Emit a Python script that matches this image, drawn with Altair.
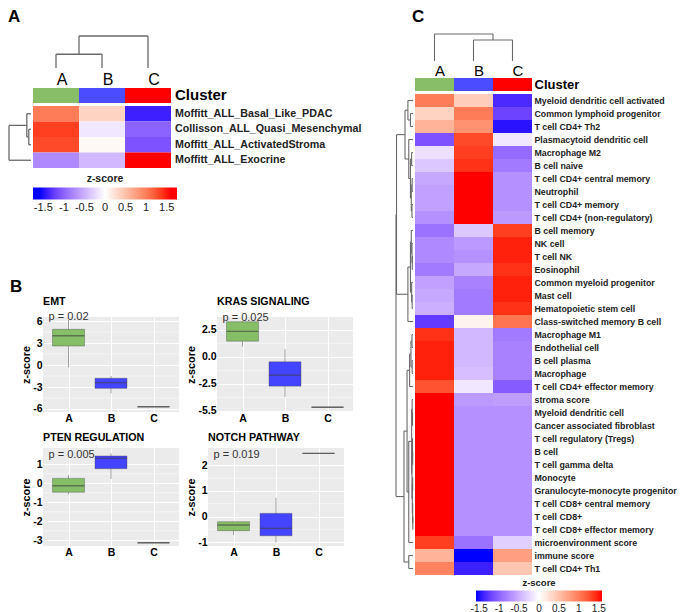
import altair as alt
import pandas as pd

FONT = "Liberation Sans"

# ---------------- data ----------------
clusters = ["A", "B", "C"]
cluster_colors = ["#88BE68", "#4B4BFF", "#FF0000"]
box_fill = ["#86BD67", "#4444FF", "#FF0000"]

# Panel A heatmap (z-scores per cluster)
a_rows = ["Moffitt_ALL_Basal_Like_PDAC", "Collisson_ALL_Quasi_Mesenchymal",
          "Moffitt_ALL_ActivatedStroma", "Moffitt_ALL_Exocrine"]
a_z_A = [1.0, 1.35, 1.3, -0.75]
a_z_B = [0.35, -0.15, 0.05, -0.45]
a_z_C = [-1.4, -1.0, -1.1, 1.5]
# dendrograms: [merge height, left, right]; integers are leaves
a_row_tree = [1.0, [0.19, 0, [0.1, 1, 2]], 3]
a_col_tree = [1.0, [0.43, 0, 1], 2]

# Panel C heatmap
c_rows = ["Myeloid dendritic cell activated", "Common lymphoid progenitor", "T cell CD4+ Th2",
          "Plasmacytoid dendritic cell", "Macrophage M2", "B cell naive",
          "T cell CD4+ central memory", "Neutrophil", "T cell CD4+ memory",
          "T cell CD4+ (non-regulatory)", "B cell memory", "NK cell", "T cell NK", "Eosinophil",
          "Common myeloid progenitor", "Mast cell", "Hematopoietic stem cell",
          "Class-switched memory B cell", "Macrophage M1", "Endothelial cell", "B cell plasma",
          "Macrophage", "T cell CD4+ effector memory", "stroma score", "Myeloid dendritic cell",
          "Cancer associated fibroblast", "T cell regulatory (Tregs)", "B cell",
          "T cell gamma delta", "Monocyte", "Granulocyte-monocyte progenitor",
          "T cell CD8+ central memory", "T cell CD8+", "T cell CD8+ effector memory",
          "microenvironment score", "immune score", "T cell CD4+ Th1"]
c_z_A = [1.0, 0.35, 0.6, -1.1, -0.2, -0.35, -0.55, -0.6, -0.6, -0.7,
         -0.9, -0.75, -0.75, -0.85, -0.6, -0.55, -0.5, -1.25,
         1.4, 1.45, 1.45, 1.45, 1.25, 1.5, 1.5, 1.5, 1.5, 1.5, 1.5, 1.5, 1.5, 1.5, 1.5, 1.5,
         1.35, 0.6, 0.95]
c_z_B = [0.4, 1.0, 0.85, 1.3, 1.35, 1.4, 1.5, 1.5, 1.5, 1.5,
         -0.35, -0.65, -0.7, -0.55, -0.8, -0.85, -0.85, 0.1,
         -0.45, -0.45, -0.45, -0.4, -0.15, -0.65, -0.7, -0.7, -0.7, -0.7, -0.7, -0.7, -0.7,
         -0.7, -0.7, -0.7, -0.9, -1.5, -1.4]
c_z_C = [-1.35, -1.2, -1.45, -0.15, -0.95, -0.85, -0.7, -0.7, -0.7, -0.65,
         1.35, 1.45, 1.45, 1.4, 1.45, 1.45, 1.4, 1.05,
         -0.85, -0.8, -0.8, -0.8, -1.05, -0.62, -0.7, -0.7, -0.7, -0.7, -0.7, -0.7, -0.7,
         -0.7, -0.7, -0.7, -0.3, 0.75, 0.45]
c_col_tree = [1.0, 0, [0.78, 1, 2]]
c_row_tree = [1.0,
              [0.97,
               [0.47, [0.3, 0, [0.15, 1, 2]],
                [0.25, 3, [0.15, [0.08, 4, 5], [0.1, [0.05, 6, 7], [0.06, 8, 9]]]]],
               [0.3, [0.15, [0.1, 10, [0.06, 11, [0.04, 12, 13]]], [0.08, 14, [0.05, 15, 16]]], 17]],
              [0.53,
               [0.35, [0.2, [0.12, [0.06, 18, 19], [0.05, 20, 21]], 22],
                [0.25, [0.08, [0.05, 23, [0.03, 24, 25]],
                        [0.06, [0.03, 26, [0.02, 27, 28]],
                         [0.04, [0.02, 29, 30], [0.02, 31, [0.01, 32, 33]]]]], 34]],
               [0.25, 35, 36]]]

legend_values = [-1.5, -1, -0.5, 0, 0.5, 1, 1.5]

# Panel B boxplots (summary statistics per cluster A, B, C)
box_titles = ["EMT", "KRAS SIGNALING", "PTEN REGULATION", "NOTCH PATHWAY"]
box_pvals = ["p = 0.02", "p = 0.025", "p = 0.005", "p = 0.019"]
box_p_y = [6.1, 3.3, 1.33, 2.3]
box_lower = [[-0.31, -3.86, -5.69], [0.93, -3.7, -4.66], [-0.58, 0.23, -3.13], [-0.72, -1.02, 2.47]]
box_q1 = [[2.59, -3.18, -5.69], [1.45, -2.71, -4.66], [-0.47, 0.77, -3.13], [-0.55, -0.75, 2.47]]
box_median = [[4.0, -2.41, -5.69], [2.35, -1.69, -4.66], [-0.13, 1.32, -3.13], [-0.33, -0.46, 2.47]]
box_q3 = [[4.87, -1.81, -5.69], [3.24, -0.46, -4.66], [0.26, 1.44, -3.13], [-0.2, 0.125, 2.47]]
box_upper = [[6.14, -1.5, -5.69], [3.3, 0.71, -4.66], [0.44, 1.58, -3.13], [-0.2, 0.73, 2.47]]
box_ticks = [[-6, -3, 0, 3, 6], [-5, -2.5, 0, 2.5], [-3, -2, -1, 0, 1], [-1, 0, 1, 2]]
box_tick_labels = [["-6", "-3", "0", "3", "6"], ["-5.5", "-2.5", "0.0", "2.5"],
                   ["-3", "-2", "-1", "0", "1"], ["-1", "0", "1", "2"]]
box_ydom = [[-6.41, 6.55], [-5.1, 3.68], [-3.3, 1.86], [-1.15, 2.68]]
box_height = [95, 95, 98, 98]


# ---------------- helpers ----------------
def dendro_segments(tree):
    segs = []

    def walk(node):
        if isinstance(node, int):
            return node + 0.5, 0.0
        h, left, right = node
        pl, hl = walk(left)
        pr, hr = walk(right)
        segs.append((pl, pl, hl, h))
        segs.append((pr, pr, hr, h))
        segs.append((pl, pr, h, h))
        return (pl + pr) / 2.0, h

    walk(tree)
    return segs


def heat_panel(rows, zcols, row_tree, col_tree, g, letters):
    ux = lambda px: (px - g["x0"]) / g["cw"]
    vy = lambda py: (py - g["y0"]) / g["rh"]
    xs = alt.Scale(domain=[ux(0), ux(g["W"])], nice=False, zero=False)
    ys = alt.Scale(domain=[vy(0), vy(g["H"])], nice=False, zero=False, reverse=True)
    X = alt.X("x0:Q", scale=xs, axis=None)
    Y = alt.Y("y0:Q", scale=ys, axis=None)

    cells = pd.DataFrame([{"x0": c, "x1": c + 1, "y0": r, "y1": r + 1, "z": z}
                          for c, col in enumerate(zcols) for r, z in enumerate(col)])
    e = g["ext"]
    cscale = alt.Scale(domain=[-e, -1.5, 0, 1.5, e],
                       range=["#0000FF", "#0000FF", "#FFFFFF", "#FF0000", "#FF0000"],
                       interpolate="lab")
    legend = alt.Legend(orient="none", legendX=g["lx"], legendY=g["ly"], direction="horizontal",
                        title="z-score", titleAnchor="middle", titleFont=FONT,
                        titleFontSize=g["lt_fs"], titleFontWeight="bold", titleColor="#222",
                        titlePadding=3, gradientLength=g["glen"], gradientThickness=g["gth"],
                        gradientStrokeWidth=0, values=legend_values,
                        labelExpr="'' + datum.value", labelFont=FONT, labelFontSize=g["ll_fs"],
                        labelColor="#222", labelOverlap=False, labelOffset=2)
    heat = alt.Chart(cells).mark_rect().encode(
        x=X, x2="x1", y=Y, y2="y1", color=alt.Color("z:Q", scale=cscale, legend=legend))

    bar = pd.DataFrame({"x0": [0, 1, 2], "x1": [1, 2, 3],
                        "y0": [vy(g["bar0"])] * 3, "y1": [vy(g["bar1"])] * 3,
                        "fill": cluster_colors})
    bar_l = alt.Chart(bar).mark_rect().encode(x=X, x2="x1", y=Y, y2="y1",
                                              fill=alt.Fill("fill:N", scale=None))

    col_lab = pd.DataFrame({"x0": [0.5, 1.5, 2.5], "y0": [vy(g["collab_y"])] * 3, "label": clusters})
    col_lab_l = alt.Chart(col_lab).mark_text(align="center", baseline="alphabetic", font=FONT,
                                             fontSize=g["col_fs"], color="black",
                                             dx=g["col_dx"]).encode(
        x=X, y=Y, text="label:N")

    clus = pd.DataFrame({"x0": [ux(g["lab_x"])], "y0": [vy(g["clus_y"])], "label": ["Cluster"]})
    clus_l = alt.Chart(clus).mark_text(align="left", baseline="alphabetic", font=FONT,
                                       fontSize=g["clus_fs"], fontWeight="bold", color="black").encode(
        x=X, y=Y, text="label:N")

    rl = pd.DataFrame({"x0": [ux(g["lab_x"])] * len(rows), "y0": [r + 0.5 for r in range(len(rows))],
                       "label": rows})
    rl_l = alt.Chart(rl).mark_text(align="left", baseline="middle", font=FONT,
                                   fontSize=g["row_fs"], fontWeight="bold", color="#222").encode(
        x=X, y=Y, text="label:N")

    cseg = dendro_segments(col_tree)
    cy = lambda h: vy(g["cd_leaf"] + (g["cd_root"] - g["cd_leaf"]) * h)
    cd = pd.DataFrame({"x0": [s[0] for s in cseg], "x1": [s[1] for s in cseg],
                       "y0": [cy(s[2]) for s in cseg], "y1": [cy(s[3]) for s in cseg]})
    rseg = dendro_segments(row_tree)
    rx = lambda h: ux(g["rd_leaf"] + (g["rd_root"] - g["rd_leaf"]) * h)
    rd = pd.DataFrame({"y0": [s[0] for s in rseg], "y1": [s[1] for s in rseg],
                       "x0": [rx(s[2]) for s in rseg], "x1": [rx(s[3]) for s in rseg]})
    cd_l = alt.Chart(cd).mark_rule(color="#6a6a6a", strokeWidth=g["dw"]).encode(
        x=X, x2="x1", y=Y, y2="y1")
    rd_l = alt.Chart(rd).mark_rule(color="#6a6a6a", strokeWidth=g["dw"]).encode(
        x=X, x2="x1", y=Y, y2="y1")

    let = pd.DataFrame({"x0": [ux(l[1]) for l in letters], "y0": [vy(l[2]) for l in letters],
                        "label": [l[0] for l in letters]})
    let_l = alt.Chart(let).mark_text(align="left", baseline="top", font=FONT, fontSize=17,
                                     fontWeight="bold", color="black").encode(
        x=X, y=Y, text="label:N")

    return alt.layer(cd_l, rd_l, heat, bar_l, col_lab_l, clus_l, rl_l, let_l).properties(
        width=g["W"], height=g["H"],
        view=alt.ViewBackground(fill="white", strokeWidth=0))


def box_panel(i):
    df = pd.DataFrame({"cluster": clusters, "lo": box_lower[i], "q1": box_q1[i],
                       "med": box_median[i], "q3": box_q3[i], "hi": box_upper[i],
                       "fill": box_fill})
    ticks = box_ticks[i]
    st = sorted(ticks)
    minor = pd.DataFrame({"m": [(a + b) / 2 for a, b in zip(st[:-1], st[1:])]})
    expr = " : ".join(f"datum.value == {v} ? '{l}'" for v, l in zip(ticks, box_tick_labels[i])) + " : ''"
    xs = alt.Scale(type="point", domain=clusters, padding=0.6)
    ys = alt.Scale(domain=box_ydom[i], nice=False, zero=False)
    xaxis = alt.Axis(title=None, labelAngle=0, labelFont=FONT, labelFontSize=10.5,
                     labelFontWeight="bold", labelColor="black", labelPadding=1, ticks=False,
                     domain=False, grid=True, gridColor="white", gridWidth=1)
    yaxis = alt.Axis(title="z-score", values=ticks, labelExpr=expr, labelFont=FONT,
                     labelFontSize=10.5, labelFontWeight="bold", labelColor="black",
                     labelPadding=1, ticks=False, domain=False, grid=True,
                     gridColor="white", gridWidth=1, titleFont=FONT, titleFontSize=10.8,
                     titleFontWeight="bold", titleColor="black", titlePadding=1)
    X = alt.X("cluster:N", scale=xs, axis=xaxis)
    base = alt.Chart(df)
    mg = alt.Chart(minor).mark_rule(color="white", strokeWidth=0.5).encode(
        y=alt.Y("m:Q", scale=ys, axis=yaxis))
    wh = base.mark_rule(color="#a0a0a0", strokeWidth=1).encode(
        x=X, y=alt.Y("lo:Q", scale=ys, axis=yaxis), y2="hi")
    bx = base.mark_bar(size=32, stroke="#404040", strokeOpacity=0.45, strokeWidth=0.8).encode(
        x=X, y=alt.Y("q1:Q", scale=ys, axis=yaxis), y2="q3", fill=alt.Fill("fill:N", scale=None))
    md = base.mark_tick(size=32, thickness=1.4, color="#404040", opacity=0.6).encode(
        x=X, y=alt.Y("med:Q", scale=ys, axis=yaxis))
    pt = alt.Chart(pd.DataFrame({"cluster": ["A"], "py": [box_p_y[i]], "label": [box_pvals[i]]})
                   ).mark_text(align="left", baseline="alphabetic", dx=-20, font=FONT, fontSize=11,
                               color="#333").encode(
        x=X, y=alt.Y("py:Q", scale=ys, axis=yaxis), text="label:N")
    return alt.layer(mg, wh, bx, md, pt).properties(
        width=136, height=box_height[i],
        title=alt.TitleParams(box_titles[i], anchor="start", frame="group", font=FONT,
                              fontSize=10.7, fontWeight="bold", color="black", offset=4),
        view=alt.ViewBackground(fill="#EBEBEB", strokeWidth=0))


# ---------------- panels ----------------
gA = dict(W=352, H=286, x0=-10, cw=46, y0=97, rh=15.5, ext=1.75,
          bar0=79, bar1=94, collab_y=76, col_dx=6, clus_y=91, lab_x=132,
          cd_leaf=59, cd_root=27, rd_leaf=-12, rd_root=-34, dw=1.3,
          col_fs=16, clus_fs=15, row_fs=10.7,
          lx=-10, ly=165, glen=144, gth=12, lt_fs=10.5, ll_fs=11)
gC = dict(W=282, H=604, x0=20, cw=39, y0=85, rh=13, ext=1.58,
          bar0=69, bar1=82, collab_y=67, col_dx=5.5, clus_y=80, lab_x=139.5,
          cd_leaf=52, cd_root=25, rd_leaf=18, rd_root=1, dw=1.1,
          col_fs=15, clus_fs=13, row_fs=8.8,
          lx=81, ly=569, glen=126, gth=11, lt_fs=9.5, ll_fs=10)

panel_a = heat_panel(a_rows, [a_z_A, a_z_B, a_z_C], a_row_tree, a_col_tree, gA,
                     [("A", -35, 0), ("B", -33, 270)])
panel_c = heat_panel(c_rows, [c_z_A, c_z_B, c_z_C], c_row_tree, c_col_tree, gC,
                     [("C", 17, 0)])

panel_b = alt.concat(*[box_panel(i) for i in range(4)], columns=2,
                     spacing={"row": 8, "column": 5}, align="none")

left = alt.vconcat(panel_a, panel_b, spacing=0)
chart = alt.hconcat(left, panel_c, spacing=0).resolve_scale(
    color="independent").resolve_legend(color="independent").properties(
    padding=0).configure_view(strokeWidth=0)

chart.save("out.html", embed_options={"renderer": "svg", "actions": False})
